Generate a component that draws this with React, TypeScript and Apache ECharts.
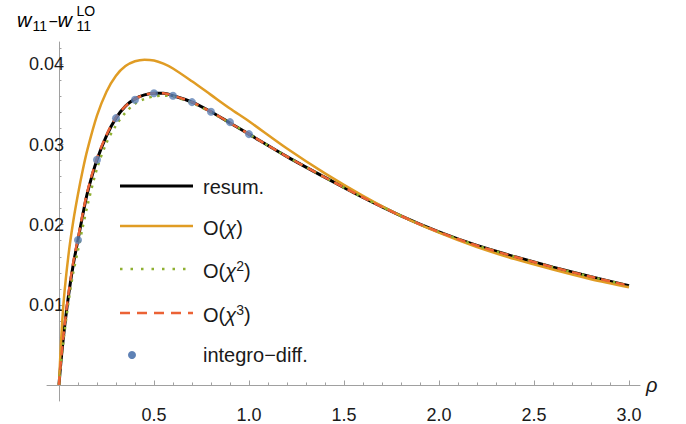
import React, { useEffect, useRef } from "react";
import * as echarts from "echarts";

// ---- data ----
const rho = [0, 0.01, 0.025, 0.05, 0.075, 0.1, 0.125, 0.15, 0.2, 0.25, 0.3, 0.35, 0.4, 0.45, 0.5, 0.55, 0.6, 0.7, 0.8, 0.9, 1.0, 1.2, 1.4, 1.6, 1.8, 2.0, 2.2, 2.4, 2.6, 2.8, 3.0];
const resum = [0, 0.0028, 0.0063, 0.0111, 0.015, 0.0181, 0.0212, 0.024, 0.0281, 0.0311, 0.0333, 0.0348, 0.0357, 0.0362, 0.0364, 0.0364, 0.0361, 0.0353, 0.0341, 0.0327, 0.0313, 0.0285, 0.0259, 0.0234, 0.0211, 0.0191, 0.0174, 0.016, 0.0147, 0.0135, 0.0124];
const orderChi = [0, 0.005, 0.0105, 0.0162, 0.0204, 0.0238, 0.0268, 0.0294, 0.0336, 0.0366, 0.0386, 0.0398, 0.0404, 0.0406, 0.0405, 0.0401, 0.0395, 0.0379, 0.0362, 0.0345, 0.0329, 0.0295, 0.0264, 0.0236, 0.0211, 0.019, 0.0172, 0.0157, 0.0144, 0.0132, 0.0122];
const orderChi2 = [0, 0.0026, 0.0058, 0.0103, 0.014, 0.0168, 0.0197, 0.0224, 0.027, 0.0302, 0.0324, 0.034, 0.0351, 0.0357, 0.036, 0.0361, 0.036, 0.0352, 0.034, 0.0327, 0.0313, 0.0285, 0.0259, 0.0234, 0.0211, 0.0191, 0.0174, 0.016, 0.0147, 0.0135, 0.0124];
const orderChi3 = [0, 0.0029, 0.0065, 0.0114, 0.0153, 0.0183, 0.0214, 0.0242, 0.0283, 0.0312, 0.0334, 0.0348, 0.0357, 0.0362, 0.0364, 0.0364, 0.0361, 0.0353, 0.0341, 0.0327, 0.0313, 0.0285, 0.0259, 0.0234, 0.0211, 0.0191, 0.0174, 0.016, 0.0147, 0.0135, 0.0124];
const integroRho = [0.1, 0.2, 0.3, 0.4, 0.5, 0.6, 0.7, 0.8, 0.9, 1.0];
const integroVals = [0.0181, 0.0281, 0.0333, 0.0356, 0.0364, 0.0361, 0.0353, 0.0341, 0.0328, 0.0313];

const xTickValues = [0.5, 1.0, 1.5, 2.0, 2.5, 3.0];
const xMinorTicks = [0.1, 0.2, 0.3, 0.4, 0.6, 0.7, 0.8, 0.9, 1.1, 1.2, 1.3, 1.4, 1.6, 1.7, 1.8, 1.9, 2.1, 2.2, 2.3, 2.4, 2.6, 2.7, 2.8, 2.9];
const yTickValues = [0.01, 0.02, 0.03, 0.04];
const yMinorTicks = [0.002, 0.004, 0.006, 0.008, 0.012, 0.014, 0.016, 0.018, 0.022, 0.024, 0.026, 0.028, 0.032, 0.034, 0.036, 0.038, 0.042];

const FONT = '"Liberation Sans", Arial, Helvetica, sans-serif';
const AXIS_COLOR = "#a0a0a0";
const TEXT_COLOR = "#1a1a1a";
const C_BLACK = "#000000";
const C_ORANGE = "#E09C24";
const C_GREEN = "#8FB032";
const C_RED = "#EB6235";
const C_BLUE = "#5E81B5";

const X_MIN = -0.063, X_MAX = 3.058, Y_MIN = -0.002, Y_MAX = 0.0428;
const GRID = { left: 47, right: 46, top: 42, bottom: 16 };
// shift of the vertical axis so that it crosses the horizontal one at rho = 0
const Y_AXIS_OFFSET = -((0 - X_MIN) / (X_MAX - X_MIN)) * (686 - GRID.left - GRID.right);

const pairs = (xs: number[], ys: number[]) => xs.map((x, i) => [x, ys[i]]);

const richLegend = {
  n: { fontSize: 20, fontFamily: FONT, color: TEXT_COLOR, lineHeight: 24 },
  c: { fontSize: 20, fontFamily: FONT, fontStyle: "italic", color: TEXT_COLOR, lineHeight: 24 },
  s: { fontSize: 14, fontFamily: FONT, color: TEXT_COLOR, lineHeight: 15, verticalAlign: "top" },
};

function legendText(y: number, text: string) {
  return {
    type: "text",
    x: 203,
    y,
    style: { text, rich: richLegend, fontSize: 20, fontFamily: FONT, fill: TEXT_COLOR, verticalAlign: "middle", align: "left" },
  };
}

function legendLine(y: number, color: string, width: number, dash?: number[]) {
  return {
    type: "line",
    shape: { x1: 120, y1: y, x2: 193, y2: y },
    style: { stroke: color, lineWidth: width, lineDash: dash || null },
  };
}

const lineSeries = (name: string, ys: number[], color: string, width: number, z: number, dash?: number[]) => ({
  name,
  type: "line",
  data: pairs(rho, ys),
  showSymbol: false,
  symbol: "none",
  smooth: 0.3,
  lineStyle: { color, width, type: dash || "solid", cap: "butt" },
  z,
});

export default function App() {
  const ref = useRef<HTMLDivElement>(null);
  useEffect(() => {
    if (!ref.current) return;
    const chart = echarts.init(ref.current, undefined, { renderer: "svg" });
    const titleText = (x: number, y: number, text: string, size: number, italic = false) => ({
      type: "text",
      x,
      y,
      style: { text, fontSize: size, fontFamily: FONT, fontStyle: italic ? "italic" : "normal", fill: "#000", verticalAlign: "middle", align: "left", lineHeight: size },
    });
    chart.setOption({
      animation: false,
      backgroundColor: "#ffffff",
      grid: GRID,
      xAxis: [
        {
          type: "value", min: X_MIN, max: X_MAX,
          axisLine: { show: true, onZero: true, lineStyle: { color: AXIS_COLOR, width: 1 } },
          axisTick: { show: true, inside: true, length: 4.5, customValues: xTickValues, lineStyle: { color: AXIS_COLOR } },
          axisLabel: { customValues: xTickValues, formatter: (v: number) => Number(v).toFixed(1), margin: 5, fontSize: 18, fontFamily: FONT, color: TEXT_COLOR },
          splitLine: { show: false },
          name: "ρ", nameLocation: "end", nameGap: 6, nameMoveOverlap: false,
          nameTextStyle: { fontStyle: "italic", fontSize: 20, fontFamily: FONT, color: TEXT_COLOR, padding: [14, 0, 0, 0] },
        },
        {
          type: "value", min: X_MIN, max: X_MAX, position: "bottom",
          axisLine: { show: false, onZero: true },
          axisTick: { show: true, inside: true, length: 2.5, customValues: xMinorTicks, lineStyle: { color: AXIS_COLOR } },
          axisLabel: { show: false },
          splitLine: { show: false },
        },
      ],
      yAxis: [
        {
          type: "value", min: Y_MIN, max: Y_MAX, position: "left", offset: Y_AXIS_OFFSET,
          axisLine: { show: true, onZero: false, lineStyle: { color: AXIS_COLOR, width: 1 } },
          axisTick: { show: true, inside: true, length: 4.5, customValues: yTickValues, lineStyle: { color: AXIS_COLOR } },
          axisLabel: { customValues: yTickValues, formatter: (v: number) => Number(v).toFixed(2), margin: -5, fontSize: 18, fontFamily: FONT, color: TEXT_COLOR },
          splitLine: { show: false },
        },
        {
          type: "value", min: Y_MIN, max: Y_MAX, position: "left", offset: Y_AXIS_OFFSET,
          axisLine: { show: false, onZero: false },
          axisTick: { show: true, inside: true, length: 2.5, customValues: yMinorTicks, lineStyle: { color: AXIS_COLOR } },
          axisLabel: { show: false },
          splitLine: { show: false },
        },
      ],
      series: [
        lineSeries("resum.", resum, C_BLACK, 3, 2),
        lineSeries("O(χ)", orderChi, C_ORANGE, 2.5, 3),
        lineSeries("O(χ²)", orderChi2, C_GREEN, 2.5, 4, [2.5, 5.5]),
        lineSeries("O(χ³)", orderChi3, C_RED, 2.5, 5, [9, 6]),
        { name: "integro-diff.", type: "scatter", data: pairs(integroRho, integroVals), symbol: "circle", symbolSize: 8, itemStyle: { color: C_BLUE }, z: 6 },
      ],
      graphic: [
        titleText(17, 20, "w", 20, true),
        titleText(32.5, 25.5, "11", 14),
        titleText(48.5, 21.5, "−", 16),
        titleText(57.5, 20, "w", 20, true),
        titleText(76.5, 11, "LO", 14),
        titleText(76.5, 25.5, "11", 14),
        legendLine(186, C_BLACK, 3),
        legendLine(226, C_ORANGE, 2.5),
        legendLine(269, C_GREEN, 2.5, [2.5, 8]),
        legendLine(313, C_RED, 2.5, [10, 7]),
        { type: "circle", shape: { cx: 132, cy: 355, r: 4 }, style: { fill: C_BLUE } },
        legendText(186.5, "{n|resum.}"),
        legendText(228, "{n|O(}{c|χ}{n|)}"),
        legendText(271, "{n|O(}{c|χ}{s|2}{n|)}"),
        legendText(315, "{n|O(}{c|χ}{s|3}{n|)}"),
        legendText(355, "{n|integro−diff.}"),
      ],
    });
    return () => chart.dispose();
  }, []);
  return <div ref={ref} style={{ position: "fixed", left: 0, top: 0, width: 686, height: 424 }} />;
}
